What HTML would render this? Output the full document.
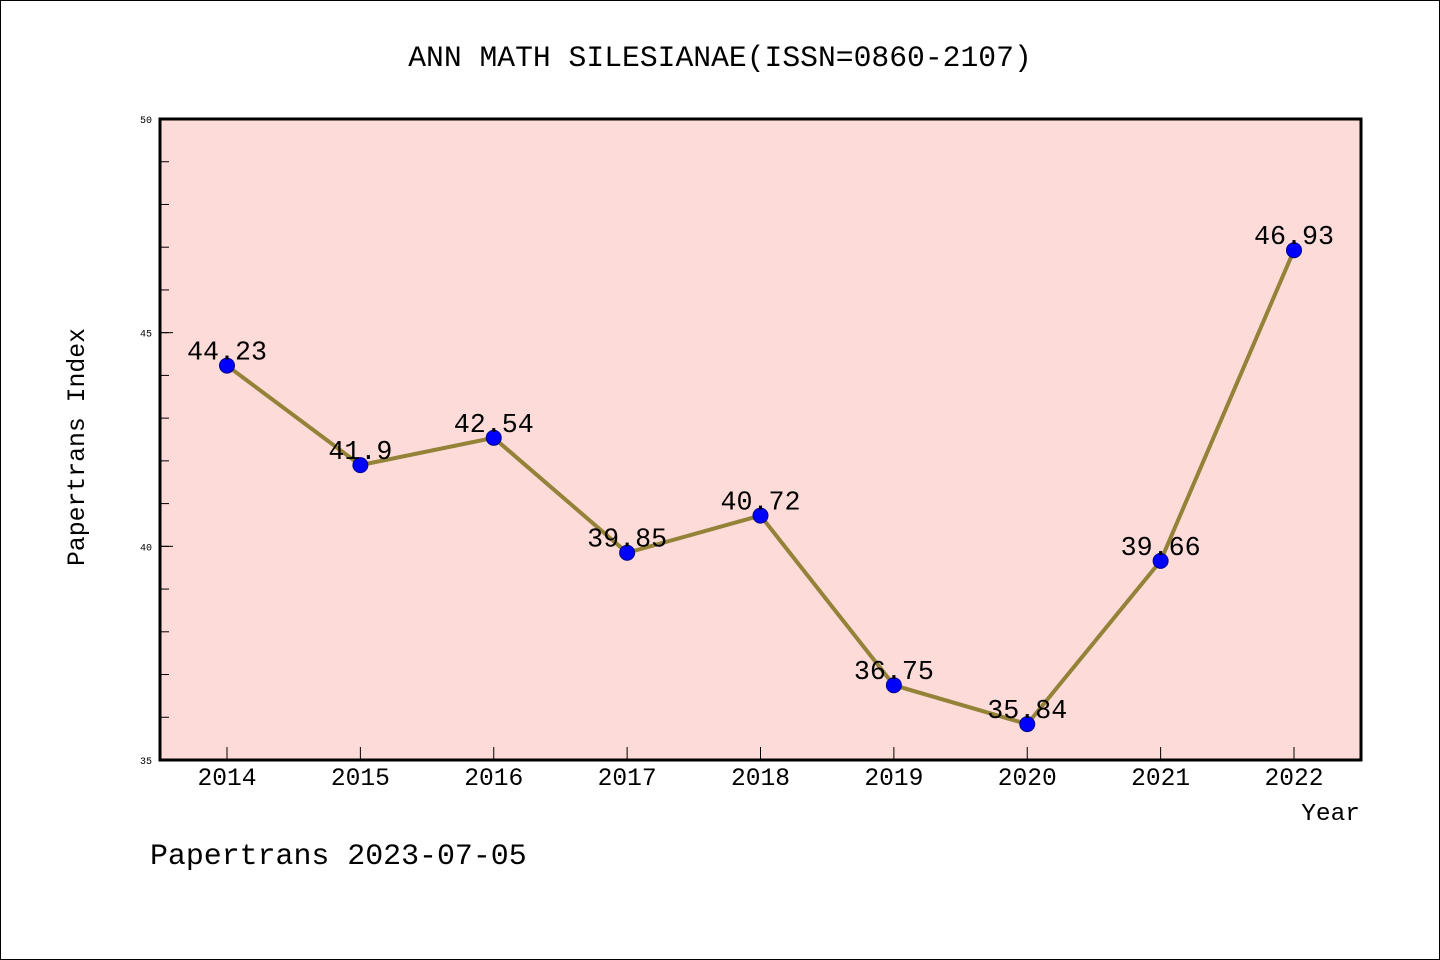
<!DOCTYPE html>
<html><head><meta charset="utf-8"><style>
html,body{margin:0;padding:0;background:#fff}
svg{display:block}
text{font-family:"Liberation Mono",monospace}
</style></head><body>
<svg id="c" width="1440" height="960">
<rect x="0.5" y="0.5" width="1439" height="959" fill="#fff" stroke="#000"/>
<text x="720" y="66" font-size="29.7" text-anchor="middle">ANN MATH SILESIANAE(ISSN=0860-2107)</text>
<rect x="160" y="119" width="1201" height="641" fill="#fddbd8"/>
<g id="ticks"></g>
<g id="series"></g>
<rect x="160" y="119" width="1201" height="641" fill="none" stroke="#000" stroke-width="3"/>
<text x="84" y="447" font-size="24.8" text-anchor="middle" transform="rotate(-90 84 447)">Papertrans Index</text>
<text x="1360" y="820" font-size="24.5" text-anchor="end">Year</text>
<text x="150" y="864" font-size="29.9">Papertrans 2023-07-05</text>
</svg>
<script>
const years=[2014,2015,2016,2017,2018,2019,2020,2021,2022];
const values=[44.23,41.9,42.54,39.85,40.72,36.75,35.84,39.66,46.93];
const labels=["44.23","41.9","42.54","39.85","40.72","36.75","35.84","39.66","46.93"];
const yTicks=[35,40,45,50];
const NS="http://www.w3.org/2000/svg";
const X=v=>227+(v-2014)*(1294-227)/8;
const Y=v=>760-(v-35)*641/15;
function mk(t,a,p){const e=document.createElementNS(NS,t);for(const k in a)e.setAttribute(k,a[k]);p.appendChild(e);return e;}
const tg=document.getElementById('ticks'),sg=document.getElementById('series');
for(let v=36;v<50;v++){const l=mk('line',{x1:160,x2:169,y1:Y(v),y2:Y(v),stroke:'#000','stroke-width':1},tg);

}
yTicks.forEach(v=>{const l=mk('line',{x1:160,x2:173,y1:Y(v),y2:Y(v),stroke:'#000','stroke-width':1},tg);


const t=mk('text',{x:152,y:Y(v)+4,'font-size':10,'text-anchor':'end'},tg);t.textContent=v;

});
years.forEach(y=>{const l=mk('line',{x1:X(y),x2:X(y),y1:760,y2:747,stroke:'#000','stroke-width':1},tg);


const t=mk('text',{x:X(y),y:785,'font-size':24.6,'text-anchor':'middle'},tg);t.textContent=y;

});
const pl=mk('polyline',{points:years.map((y,i)=>X(y)+','+Y(values[i])).join(' '),fill:'none',stroke:'#948238','stroke-width':4},sg);


years.forEach((y,i)=>{const c=mk('circle',{cx:X(y),cy:Y(values[i]),r:7.5,fill:'#0000ff',stroke:'#00008b','stroke-width':1},sg);


const t=mk('text',{x:X(y),y:Y(values[i])-6,'font-size':26.7,'text-anchor':'middle'},sg);t.textContent=labels[i];

});
</script>
</body></html>
